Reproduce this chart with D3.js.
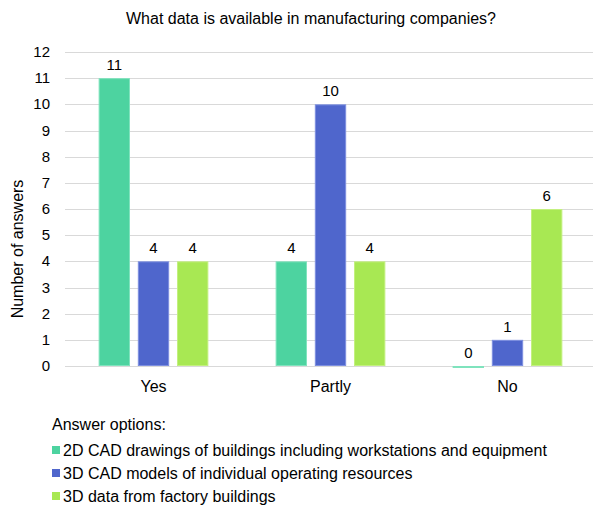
<!DOCTYPE html>
<html>
<head>
<meta charset="utf-8">
<script src="https://cdn.jsdelivr.net/npm/d3@7"></script>
<style>
  body { margin: 0; background: #fff; }
  text { font-family: "Liberation Sans", Arial, sans-serif; fill: #000; }
</style>
</head>
<body>
<div id="chart"></div>
<script>
// chart data
const categories = ["Yes", "Partly", "No"];
const seriesNames = [
    "2D CAD drawings of buildings including workstations and equipment",
    "3D CAD models of individual operating resources",
    "3D data from factory buildings"
];
const series2D = [11, 4, 0];
const series3DModels = [4, 10, 1];
const series3DFactory = [4, 4, 6];
const yTicks = [0, 1, 2, 3, 4, 5, 6, 7, 8, 9, 10, 11, 12];

const colors = ["#4dd3a0", "#4f66cc", "#a8e853"];
const strokes = ["#7fe3bd", "#7d8fe0", "#c3f07f"];

const width = 593, height = 507;
const margin = {top: 52, right: -3, bottom: 141, left: 65};

const svg = d3.select("#chart").append("svg")
    .attr("width", width)
    .attr("height", height);

const values = [series2D, series3DModels, series3DFactory];

// scales
const x0 = d3.scaleBand()
    .domain(categories)
    .range([margin.left, width - margin.right])
    .paddingInner(0)
    .paddingOuter(0);

const x1 = d3.scaleBand()
    .domain(d3.range(seriesNames.length))
    .range([x0.bandwidth() * 0.19, x0.bandwidth() * 0.81])
    .paddingInner(0.2);

const y = d3.scaleLinear()
    .domain([0, 12])
    .range([height - margin.bottom, margin.top]);

// title
svg.append("text")
    .attr("x", 311)
    .attr("y", 24)
    .attr("text-anchor", "middle")
    .style("font-size", "16px")
    .text("What data is available in manufacturing companies?");

// gridlines
svg.append("g")
    .selectAll("line")
    .data(yTicks)
    .join("line")
    .attr("x1", margin.left)
    .attr("x2", width)
    .attr("y1", d => Math.round(y(d)) + 0.5)
    .attr("y2", d => Math.round(y(d)) + 0.5)
    .attr("stroke", "#d9d9d9")
    .attr("stroke-width", 1);

// y axis labels
svg.append("g")
    .selectAll("text")
    .data(yTicks)
    .join("text")
    .attr("x", 50)
    .attr("y", d => y(d) + 5)
    .attr("text-anchor", "end")
    .style("font-size", "15px")
    .text(d => d);

svg.append("text")
    .attr("transform", "translate(23,249) rotate(-90)")
    .attr("text-anchor", "middle")
    .style("font-size", "16px")
    .text("Number of answers");

// bars
const groups = svg.append("g")
    .selectAll("g")
    .data(categories)
    .join("g")
    .attr("transform", d => "translate(" + x0(d) + ",0)");

groups.selectAll("rect")
    .data((c, ci) => values.map((s, si) => ({si: si, v: s[ci]})))
    .join("rect")
    .attr("x", d => x1(d.si) + 0.5)
    .attr("width", x1.bandwidth() - 1)
    .attr("y", d => y(d.v) + 0.5)
    .attr("height", d => Math.max(1, y(0) - y(d.v) - 1))
    .attr("fill", d => colors[d.si])
    .attr("stroke", d => strokes[d.si])
    .attr("stroke-width", 1);

groups.selectAll("text")
    .data((c, ci) => values.map((s, si) => ({si: si, v: s[ci]})))
    .join("text")
    .attr("x", d => x1(d.si) + x1.bandwidth() / 2)
    .attr("y", d => y(d.v) - 8)
    .attr("text-anchor", "middle")
    .style("font-size", "15px")
    .text(d => d.v);

// category labels
svg.append("g")
    .selectAll("text")
    .data(categories)
    .join("text")
    .attr("x", d => x0(d) + x0.bandwidth() / 2)
    .attr("y", 392)
    .attr("text-anchor", "middle")
    .style("font-size", "16px")
    .text(d => d);

// legend
const legend = svg.append("g").attr("transform", "translate(52,0)");

legend.append("text")
    .attr("x", 0)
    .attr("y", 430)
    .style("font-size", "16px")
    .text("Answer options:");

const items = legend.selectAll("g.item")
    .data(seriesNames)
    .join("g")
    .attr("class", "item")
    .attr("transform", (d, i) => "translate(0," + (456 + i * 23) + ")");

items.append("rect")
    .attr("x", 0)
    .attr("y", -10)
    .attr("width", 8)
    .attr("height", 8)
    .attr("fill", (d, i) => colors[i]);

items.append("text")
    .attr("x", 11)
    .attr("y", 0)
    .style("font-size", "16px")
    .text(d => d);
</script>
</body>
</html>
